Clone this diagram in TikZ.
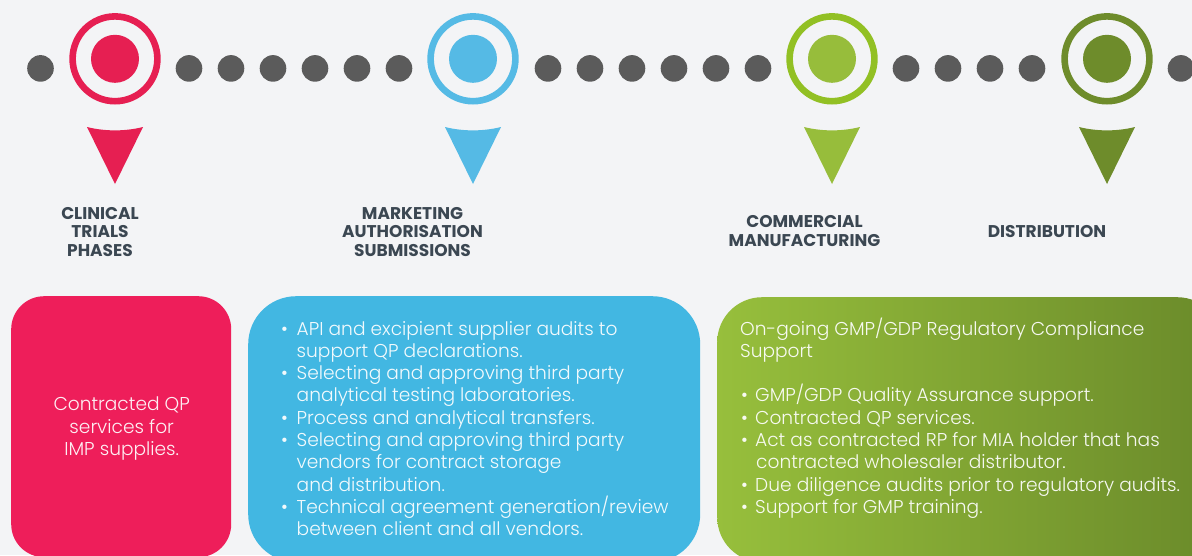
\documentclass[tikz,border=0pt]{standalone}
\usepackage{fontspec}
\setmainfont{Poppins}
\newfontfamily\bodyf{Poppins Light}
\definecolor{bg}{HTML}{F3F4F6}
\definecolor{dotgrey}{HTML}{5B5B5B}
\definecolor{cred}{HTML}{E61F52}
\definecolor{cblue}{HTML}{55BAE5}
\definecolor{clgreen}{HTML}{97BD3B}
\definecolor{clgreenring}{HTML}{92C024}
\definecolor{cdgreen}{HTML}{6E8C2B}
\definecolor{boxred}{HTML}{EE1E5A}
\definecolor{boxblue}{HTML}{42B7E2}
\definecolor{gleft}{HTML}{97BF3C}
\definecolor{gright}{HTML}{6A8A2A}
\definecolor{labelc}{HTML}{3B4752}
\tikzset{
  greydot/.style={circle, fill=dotgrey, minimum size=26.6pt, inner sep=0pt},
  ring/.style={circle, draw=#1, line width=6.6pt, minimum size=84.8pt, inner sep=0pt},
  disk/.style={circle, fill=#1, minimum size=48pt, inner sep=0pt},
  box/.style={rectangle, anchor=north west, inner sep=0pt},
  lbl/.style={font=\fontsize{17}{18.7}\selectfont\bfseries, text=labelc, anchor=base, inner sep=0pt},
  bt/.style={font=\bodyf\fontsize{18.6}{22.3}\selectfont, text=white, text opacity=0.93, anchor=base west, inner sep=0pt},
  btc/.style={bt, anchor=base},
}
\begin{document}
\begin{tikzpicture}[x=1pt,y=-1pt]
\useasboundingbox (0,0) rectangle (1192,555);
\fill[bg] (0,0) rectangle (1192,555);
\clip (0,0) rectangle (1192,555);
% dots
\foreach \x [count=\i] in {40.5,189,231,273,315,357,399,548,590,632,674,716,758,906,948,990,1032,1181}
  \node[greydot] (dot\i) at (\x,68.4) {};
% rings, disks, pointers
\foreach \x/\c/\rc [count=\i] in {115/cred/cred,473/cblue/cblue,832/clgreen/clgreenring,1107/cdgreen/cdgreen}{
  \node[ring=\rc] (ring\i) at (\x,58.8) {};
  \node[disk=\c] (disk\i) at (\x,58.8) {};
  \fill[\c] (\x-28,127) .. controls (\x-10,131.5) and (\x+10,131.5) .. (\x+28,127) -- (\x,184) -- cycle;
}
% phase labels
\node[lbl] (l1a) at (100,219) {CLINICAL};
\node[lbl] (l1b) at (100,237.8) {TRIALS};
\node[lbl] (l1c) at (100,256.6) {PHASES};
\node[lbl] (l2a) at (412.5,219) {MARKETING};
\node[lbl] (l2b) at (412.5,237.8) {AUTHORISATION};
\node[lbl] (l2c) at (412.5,256.6) {SUBMISSIONS};
\node[lbl] (l3a) at (804.5,227.7) {COMMERCIAL};
\node[lbl] (l3b) at (804.5,246.3) {MANUFACTURING};
\node[lbl] (l4a) at (1047,237) {DISTRIBUTION};
% boxes
\node[box, fill=boxred, rounded corners=33pt, minimum width=220pt, minimum height=261pt] (redbox) at (11,296) {};
\node[box, fill=boxblue, rounded corners=48pt, minimum width=452pt, minimum height=266pt] (bluebox) at (248,296) {};
\node[box, left color=gleft, right color=gright, rounded corners=45pt, minimum width=505pt, minimum height=265pt] (greenbox) at (717,297) {};
% red box text
\node[btc] (rt1) at (121.7,410.7) {Contracted QP};
\node[btc] (rt2) at (121.7,433) {services for};
\node[btc] (rt3) at (121.7,455.3) {IMP supplies.};
% blue box text
\node[bt] (bb1) at (281,335) {•};
\node[bt] (bt1) at (296.5,335) {API and excipient supplier audits to};
\node[bt] (bt2) at (296.5,357.3) {support QP declarations.};
\node[bt] (bb3) at (281,379.6) {•};
\node[bt] (bt3) at (296.5,379.6) {Selecting and approving third party};
\node[bt] (bt4) at (296.5,401.9) {analytical testing laboratories.};
\node[bt] (bb5) at (281,424.2) {•};
\node[bt] (bt5) at (296.5,424.2) {Process and analytical transfers.};
\node[bt] (bb6) at (281,446.5) {•};
\node[bt] (bt6) at (296.5,446.5) {Selecting and approving third party};
\node[bt] (bt7) at (296.5,468.8) {vendors for contract storage};
\node[bt] (bt8) at (296.5,491.1) {and distribution.};
\node[bt] (bb9) at (281,513.4) {•};
\node[bt] (bt9) at (296.5,513.4) {Technical agreement generation/review};
\node[bt] (bt10) at (296.5,535.7) {between client and all vendors.};
% green box text
\node[bt] (gt1) at (740,335) {On-going GMP/GDP Regulatory Compliance};
\node[bt] (gt2) at (740,357.3) {Support};
\node[bt] (gb3) at (741,401.9) {•};
\node[bt] (gt3) at (755,401.9) {GMP/GDP Quality Assurance support.};
\node[bt] (gb4) at (741,424.2) {•};
\node[bt] (gt4) at (755,424.2) {Contracted QP services.};
\node[bt] (gb5) at (741,446.5) {•};
\node[bt] (gt5) at (755,446.5) {Act as contracted RP for MIA holder that has};
\node[bt] (gt6) at (756,468.8) {contracted wholesaler distributor.};
\node[bt] (gb7) at (741,491.1) {•};
\node[bt] (gt7) at (755,491.1) {Due diligence audits prior to regulatory audits.};
\node[bt] (gb8) at (741,513.4) {•};
\node[bt] (gt8) at (755,513.4) {Support for GMP training.};
\end{tikzpicture}
\end{document}
